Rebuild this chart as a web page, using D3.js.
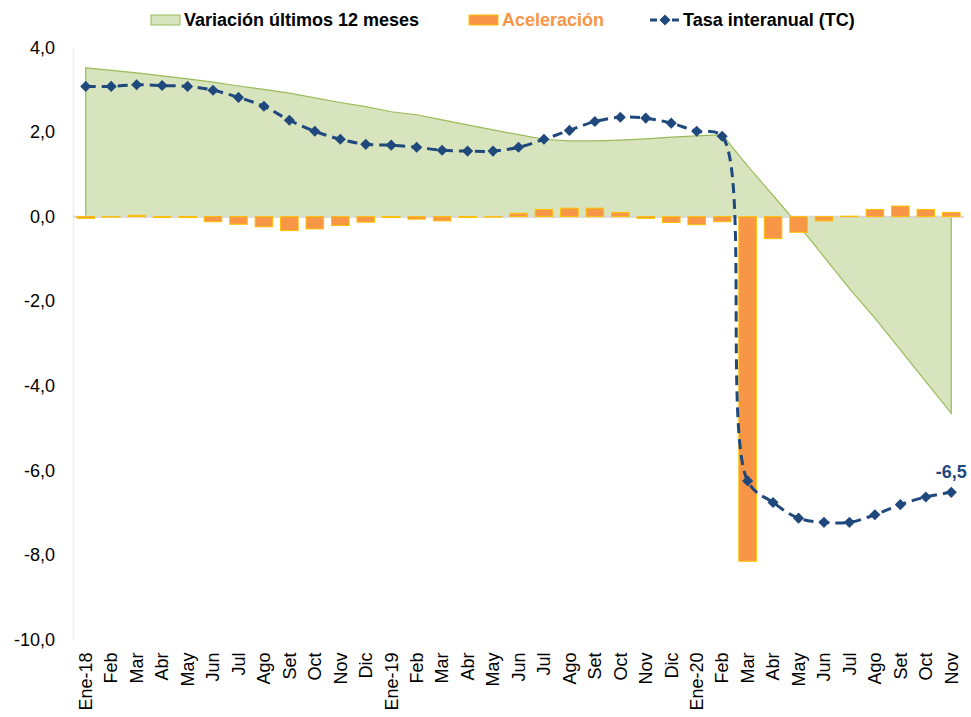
<!DOCTYPE html>
<html>
<head>
<meta charset="utf-8">
<script src="https://d3js.org/d3.v7.min.js"></script>
<style>
  body { margin: 0; background: #fff; }
  text { font-family: "Liberation Sans", Arial, sans-serif; }
</style>
</head>
<body>
<div id="chart-area"></div>
<script>
//============================DATA============================
// months on the category axis (labels repeat, so the scale works on the index)
var monthLabels = ["Ene-18","Feb","Mar","Abr","May","Jun","Jul","Ago","Set","Oct","Nov","Dic",
                   "Ene-19","Feb","Mar","Abr","May","Jun","Jul","Ago","Set","Oct","Nov","Dic",
                   "Ene-20","Feb","Mar","Abr","May","Jun","Jul","Ago","Set","Oct","Nov"];

// green area: variation over the last 12 months
var variacion12m = [3.52,3.46,3.40,3.33,3.26,3.18,3.09,3.01,2.92,2.81,2.70,2.60,
                    2.48,2.41,2.29,2.17,2.05,1.94,1.83,1.79,1.79,1.81,1.84,1.88,
                    1.91,1.94,1.20,0.50,-0.20,-0.95,-1.70,-2.40,-3.15,-3.90,-4.65];

// orange bars: acceleration
var aceleracion = [-0.04,-0.01,0.03,-0.02,-0.02,-0.12,-0.18,-0.24,-0.33,-0.29,-0.21,-0.13,
                   -0.02,-0.06,-0.10,-0.02,-0.01,0.08,0.17,0.20,0.20,0.10,-0.04,-0.14,
                   -0.19,-0.12,-8.15,-0.52,-0.37,-0.10,0.01,0.17,0.25,0.17,0.10];

// dashed line: year-on-year rate (TC)
var tasaInteranual = [3.08,3.08,3.12,3.10,3.08,2.99,2.82,2.61,2.28,2.02,1.83,1.71,
                      1.69,1.64,1.57,1.55,1.55,1.64,1.83,2.04,2.25,2.35,2.33,2.21,
                      2.02,1.90,-6.25,-6.76,-7.13,-7.23,-7.23,-7.05,-6.81,-6.63,-6.52];

var yTicks = [-10,-8,-6,-4,-2,0,2,4];

var seriesNames = ["Variación últimos 12 meses","Aceleración","Tasa interanual (TC)"];

//============================GLOBALS============================
var margins = { left:73, right:7, top:47.5, bottom:77.5 };
var width = 971 - margins.left - margins.right;
var height = 717 - margins.top - margins.bottom;

var colGreen = "#d7e4bd", colGreenLine = "#9bbb59";
var colOrange = "#f79646", colOrangeLine = "#ffc000";
var colBlue = "#1f497d";

var svg = d3.select("#chart-area")
    .append("svg")
    .attr("width", width + margins.left + margins.right)
    .attr("height", height + margins.top + margins.bottom);

var g = svg.append("g")
    .attr("transform", "translate(" + margins.left + ", " + margins.top + ")");

// comma decimal, plain hyphen minus
function fmt(d){
    return (d < 0 ? "-" : "") + Math.abs(d).toFixed(1).replace(".", ",");
}

var idx = d3.range(monthLabels.length);

//============================SCALES============================
var x = d3.scaleBand()
    .domain(idx)
    .range([0, width])
    .paddingInner(0.31)
    .paddingOuter(0.155);

function cx(i){ return x(i) + x.bandwidth() / 2; }

var y = d3.scaleLinear()
    .domain([-10, 4])
    .range([height, 0]);

//============================AXES============================
var yAxisCall = d3.axisLeft(y)
    .tickValues(yTicks)
    .tickSize(0)
    .tickPadding(18)
    .tickFormat(fmt);
var yAxis = g.append("g")
    .attr("class", "y axis")
    .call(yAxisCall);
yAxis.select(".domain").attr("stroke", "#eeeeee").attr("stroke-width", 1.5);
yAxis.selectAll("text")
    .attr("font-size", "18px")
    .attr("fill", "#000")
    .style("font-family", "'Liberation Sans', Arial, sans-serif");

var xAxisCall = d3.axisBottom(x)
    .tickSize(0)
    .tickFormat(function(i){ return monthLabels[i]; });
var xAxis = g.append("g")
    .attr("class", "x axis")
    .attr("transform", "translate(0, " + height + ")")
    .call(xAxisCall);
xAxis.select(".domain").remove();
xAxis.selectAll("text")
    .attr("transform", "rotate(-90)")
    .attr("text-anchor", "end")
    .attr("x", -13)
    .attr("y", 0)
    .attr("dy", "0.35em")
    .attr("font-size", "18px")
    .attr("fill", "#000")
    .style("font-family", "'Liberation Sans', Arial, sans-serif");

//============================AREA============================
var area = d3.area()
    .x(function(i){ return cx(i); })
    .y0(y(0))
    .y1(function(i){ return y(variacion12m[i]); });

g.append("path")
    .datum(idx)
    .attr("d", area)
    .attr("fill", colGreen)
    .attr("stroke", colGreenLine)
    .attr("stroke-width", 1.2);

// zero line (category axis crossing)
g.append("line")
    .attr("x1", 0).attr("x2", width)
    .attr("y1", y(0)).attr("y2", y(0))
    .attr("stroke", "#d9d9d9")
    .attr("stroke-width", 2);

//============================BARS============================
g.selectAll("rect.bar")
    .data(idx)
    .enter()
    .append("rect")
    .attr("class", "bar")
    .attr("x", function(i){ return x(i); })
    .attr("y", function(i){ return y(Math.max(0, aceleracion[i])); })
    .attr("width", x.bandwidth())
    .attr("height", function(i){ return Math.abs(y(aceleracion[i]) - y(0)); })
    .attr("fill", colOrange)
    .attr("stroke", colOrangeLine)
    .attr("stroke-width", 1);

//============================LINE============================
var line = d3.line()
    .x(function(i){ return cx(i); })
    .y(function(i){ return y(tasaInteranual[i]); })
    .curve(d3.curveCatmullRom.alpha(0.5));

g.append("path")
    .datum(idx)
    .attr("d", line)
    .attr("fill", "none")
    .attr("stroke", colBlue)
    .attr("stroke-width", 3)
    .attr("stroke-dasharray", "10,6");

var diamond = d3.symbol().type(d3.symbolSquare).size(62);

g.selectAll("path.marker")
    .data(idx)
    .enter()
    .append("path")
    .attr("class", "marker")
    .attr("d", diamond)
    .attr("transform", function(i){ return "translate(" + cx(i) + "," + y(tasaInteranual[i]) + ") rotate(45)"; })
    .attr("fill", colBlue);

// label of the last value
var last = idx.length - 1;
g.append("text")
    .attr("x", cx(last))
    .attr("y", y(tasaInteranual[last]) - 14)
    .attr("text-anchor", "middle")
    .attr("font-size", "18px")
    .attr("font-weight", "bold")
    .attr("fill", colBlue)
    .text(fmt(tasaInteranual[last]));

//============================LEGEND============================
var legY = 20;

svg.append("rect")
    .attr("x", 151).attr("y", legY - 5)
    .attr("width", 29).attr("height", 10)
    .attr("fill", colGreen).attr("stroke", colGreenLine).attr("stroke-width", 1);
svg.append("text")
    .attr("x", 184).attr("y", legY + 6)
    .attr("font-size", "18px").attr("font-weight", "bold").attr("fill", "#000")
    .text(seriesNames[0]);

svg.append("rect")
    .attr("x", 469).attr("y", legY - 5)
    .attr("width", 29).attr("height", 10)
    .attr("fill", colOrange).attr("stroke", colOrangeLine).attr("stroke-width", 1);
svg.append("text")
    .attr("x", 502).attr("y", legY + 6)
    .attr("font-size", "18px").attr("font-weight", "bold").attr("fill", colOrange)
    .text(seriesNames[1]);

svg.append("line")
    .attr("x1", 650).attr("x2", 680)
    .attr("y1", legY).attr("y2", legY)
    .attr("stroke", colBlue).attr("stroke-width", 3)
    .attr("stroke-dasharray", "7,4");
svg.append("path")
    .attr("d", diamond)
    .attr("transform", "translate(665," + legY + ") rotate(45)")
    .attr("fill", colBlue);
svg.append("text")
    .attr("x", 683).attr("y", legY + 6)
    .attr("font-size", "18px").attr("font-weight", "bold").attr("fill", "#000")
    .text(seriesNames[2]);
</script>
</body>
</html>
